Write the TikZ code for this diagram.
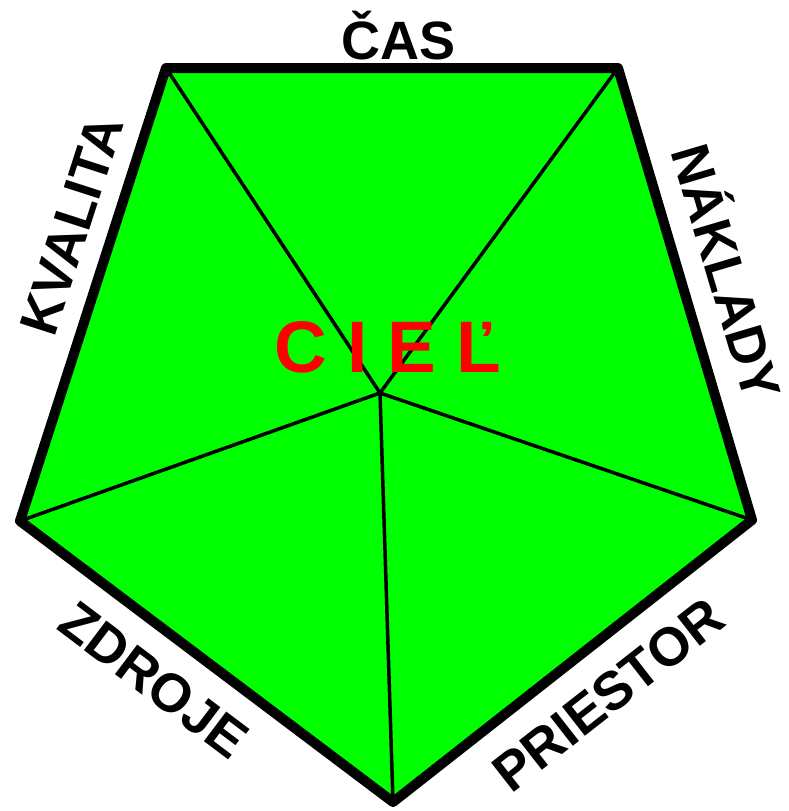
\documentclass[tikz,border=0pt]{standalone}
\usepackage{fontspec}
\setmainfont{Liberation Sans}
\definecolor{pgreen}{RGB}{0,255,0}
\definecolor{pred}{RGB}{255,0,0}
\begin{document}
\begin{tikzpicture}[x=1pt,y=-1pt,
  outline/.style={draw=black,line width=10pt,line join=round,fill=pgreen},
  spoke/.style={draw=black,line width=3.5pt},
  lbl/.style={font=\fontsize{54}{54}\selectfont\bfseries,text=black,inner sep=0pt},
  goal/.style={font=\fontsize{73}{73}\selectfont\bfseries,text=pred,inner sep=0pt}]
\useasboundingbox (0,0) rectangle (788,811);
\coordinate (tl) at (166,68);
\coordinate (tr) at (618,68);
\coordinate (r) at (752,520);
\coordinate (b) at (393,802);
\coordinate (l) at (20,521);
\coordinate (c) at (380,393);
\path[outline] (tl) -- (tr) -- (r) -- (b) -- (l) -- cycle;
\foreach \v in {tl,tr,r,b,l} \draw[spoke] (c) -- (\v);
\node[lbl,anchor=base] (cas) at (399,59) {ČAS};
\node[lbl,rotate=72.1] (kval) at (72,225) {KVALITA};
\node[lbl,rotate=-73.5] (nakl) at (731,271) {NÁKLADY};
\node[lbl,rotate=-37] (zdr) at (154,680) {ZDROJE};
\node[lbl,rotate=38] (pri) at (608,695) {PRIESTOR};
\node[goal,anchor=base] (ciel) at (388,372) {C I E Ľ};
\end{tikzpicture}
\end{document}
